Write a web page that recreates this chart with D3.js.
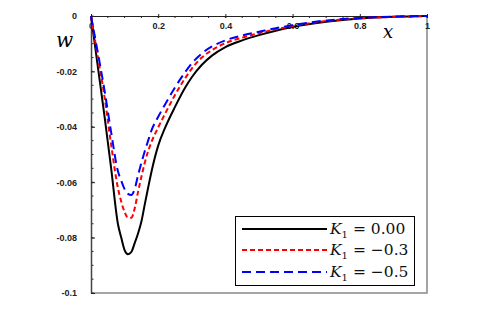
<!DOCTYPE html>
<html>
<head>
<meta charset="utf-8">
<script src="https://cdn.jsdelivr.net/npm/d3@7"></script>
<style>
  body { margin: 0; background: #fff; }
  svg { display: block; }
  .tick text { font-family: Arial, "Liberation Sans", sans-serif; font-weight: bold; font-size: 9px; fill: #222; }
</style>
</head>
<body>
<div id="chart"></div>
<script>
// x positions shared by all three curves
var xs = [0, 0.02, 0.04, 0.06, 0.08, 0.09, 0.1, 0.11, 0.12, 0.13, 0.14, 0.15, 0.16, 0.17, 0.18, 0.2, 0.22, 0.25, 0.28, 0.3, 0.33, 0.36, 0.4, 0.45, 0.5, 0.55, 0.6, 0.7, 0.8, 0.9, 1];

// w for K1 = 0.00
var wK0 = [0, -0.018, -0.036, -0.055, -0.075, -0.080, -0.0845, -0.086, -0.0852, -0.082, -0.0785, -0.0742, -0.068, -0.062, -0.0562, -0.0468, -0.0405, -0.0328, -0.0259, -0.0221, -0.0176, -0.0143, -0.0112, -0.0088, -0.0069, -0.0053, -0.004, -0.0021, -0.0009, -0.0003, 0];
// w for K1 = -0.3
var wK3 = [0, -0.0145, -0.029, -0.0465, -0.062, -0.067, -0.0708, -0.0728, -0.0728, -0.0695, -0.0635, -0.058, -0.053, -0.0488, -0.0455, -0.0402, -0.0354, -0.0285, -0.0225, -0.019, -0.015, -0.0123, -0.0098, -0.0078, -0.0062, -0.0048, -0.0036, -0.0018, -0.0008, -0.0003, 0];
// w for K1 = -0.5
var wK5 = [0, -0.013, -0.0267, -0.042, -0.056, -0.0595, -0.0625, -0.0642, -0.0646, -0.0625, -0.0575, -0.053, -0.0488, -0.045, -0.0413, -0.0364, -0.032, -0.0258, -0.0203, -0.0171, -0.0135, -0.011, -0.0088, -0.007, -0.0057, -0.0044, -0.0033, -0.0016, -0.0007, -0.0002, 0];

var xTicks = [0, 0.2, 0.4, 0.6, 0.8, 1];
var xTickLabels = ["0", "0.2", "0.4", "0.6", "0.8", "1"];
var yTicks = [0, -0.02, -0.04, -0.06, -0.08, -0.1];
var yTickLabels = ["0", "-0.02", "-0.04", "-0.06", "-0.08", "-0.1"];
var legendVals = ["0.00", "\u22120.3", "\u22120.5"];

var width = 495, height = 313,
    margin = {top: 16, left: 91, right: 68, bottom: 20};

var svg = d3.select("#chart").append("svg")
  .attr("width", width)
  .attr("height", height);

var x = d3.scaleLinear().domain([0, 1]).range([margin.left, width - margin.right]);
var y = d3.scaleLinear().domain([0, -0.1]).range([margin.top, height - margin.bottom]);

// frame right + bottom (grey)
svg.append("path")
  .attr("d", "M" + x(1) + "," + y(0) + "V" + y(-0.1) + "H" + x(0))
  .attr("fill", "none")
  .attr("stroke", "#888")
  .attr("stroke-width", 1.5);

// minor ticks
var minorX = d3.range(0, 1.0001, 0.05);
svg.append("g").selectAll("line").data(minorX).enter().append("line")
  .attr("x1", d => x(d)).attr("x2", d => x(d))
  .attr("y1", y(0)).attr("y2", y(0) + 2)
  .attr("stroke", "#222");
var minorY = d3.range(0, -0.1001, -0.005);
svg.append("g").selectAll("line").data(minorY).enter().append("line")
  .attr("x1", x(0)).attr("x2", x(0) + 2.5)
  .attr("y1", d => y(d)).attr("y2", d => y(d))
  .attr("stroke", "#222");

// top x axis with labels below the line
var xAxis = svg.append("g")
  .attr("transform", "translate(0," + y(0) + ")")
  .call(d3.axisBottom(x).tickValues(xTicks).tickFormat((d, i) => xTickLabels[i]).tickSizeInner(2).tickSizeOuter(0).tickPadding(5));
xAxis.selectAll(".tick line").attr("y1", -2).attr("stroke", "#222");
xAxis.select(".domain").attr("stroke", "#222").attr("stroke-width", 1.2);

var yAxis = svg.append("g")
  .attr("transform", "translate(" + x(0) + ",0)")
  .call(d3.axisLeft(y).tickValues(yTicks).tickFormat((d, i) => yTickLabels[i]).tickSizeInner(-4).tickSizeOuter(0).tickPadding(12));
yAxis.selectAll(".tick line").attr("stroke", "#222");
yAxis.select(".domain").attr("stroke", "#444").attr("stroke-width", 1.5);
yAxis.selectAll(".tick text").attr("dx", "-2");

// curves
var series = [
  {vals: wK0, color: "#000", dash: null, w: 2},
  {vals: wK3, color: "#ff0000", dash: "5,3", w: 2},
  {vals: wK5, color: "#0000ff", dash: "9,5", w: 2}
];
var line = d3.line().curve(d3.curveMonotoneX);
series.forEach(function(s) {
  svg.append("path")
    .datum(xs.map((d, i) => [x(d), y(s.vals[i])]))
    .attr("d", line)
    .attr("fill", "none")
    .attr("stroke", s.color)
    .attr("stroke-width", s.w)
    .attr("stroke-dasharray", s.dash);
});

// axis titles
svg.append("text").attr("x", 56).attr("y", 47)
  .attr("font-family", "'DejaVu Serif', serif").attr("font-style", "italic")
  .attr("font-size", 20).text("w");
svg.append("text").attr("x", 383).attr("y", 38)
  .attr("font-family", "'DejaVu Serif', serif").attr("font-style", "italic")
  .attr("font-size", 18).text("x");

// legend
var lg = svg.append("g");
lg.append("rect").attr("x", 235.5).attr("y", 216.5).attr("width", 179).attr("height", 69)
  .attr("fill", "#fff").attr("stroke", "#000").attr("stroke-width", 1);
var rowY = [229, 250, 272];
series.forEach(function(s, i) {
  lg.append("line")
    .attr("x1", 242).attr("x2", 327)
    .attr("y1", rowY[i]).attr("y2", rowY[i])
    .attr("stroke", s.color).attr("stroke-width", 2.2)
    .attr("stroke-dasharray", s.dash);
  var t = lg.append("text").attr("x", 330).attr("y", rowY[i] + 5)
    .attr("font-family", "'DejaVu Serif', serif").attr("font-size", 15.5).attr("fill", "#111");
  t.append("tspan").attr("font-style", "italic").text("K");
  t.append("tspan").attr("font-size", 10).attr("dy", 4).text("1");
  t.append("tspan").attr("dy", -4).text(" = " + legendVals[i]);
});
</script>
</body>
</html>
